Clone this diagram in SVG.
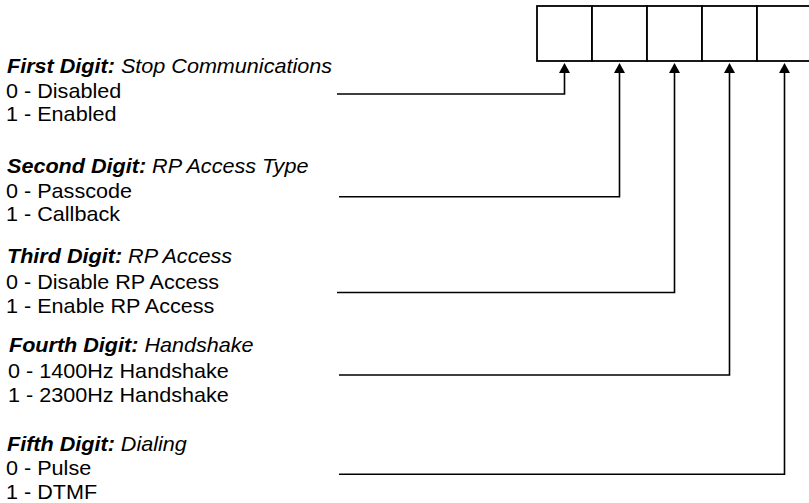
<svg xmlns="http://www.w3.org/2000/svg" width="809" height="503" viewBox="0 0 809 503">
<style>
text { font-family: "Liberation Sans", Arial, sans-serif; font-size: 20px; fill: #000; }
.h { font-style: italic; }
.b { font-weight: bold; }
.cell { fill: #fff; stroke: #000; stroke-width: 1.8; }
.conn { fill: none; stroke: #000; stroke-width: 1.6; }
</style>
<defs>
<marker id="arr" viewBox="0 0 10 11" refX="0" refY="5.5" markerWidth="10" markerHeight="11" markerUnits="userSpaceOnUse" orient="auto">
<path d="M0 0 L10 5.5 L0 11 Z" fill="#000"/>
</marker>
</defs>
<rect width="809" height="503" fill="#fff"/>
<g id="register">
<rect class="cell" x="537" y="6" width="55" height="55"/>
<rect class="cell" x="592" y="6" width="55" height="55"/>
<rect class="cell" x="647" y="6" width="55" height="55"/>
<rect class="cell" x="702" y="6" width="55" height="55"/>
<rect class="cell" x="757" y="6" width="55" height="55"/>
</g>
<g id="first-digit" transform="scale(1.08 1)">
<text x="6.5" y="73"><tspan class="h b">First Digit:</tspan><tspan class="h"> Stop Communications</tspan></text>
<text x="5.6" y="98.5">0 - Disabled</text>
<text x="5.6" y="120.7">1 - Enabled</text>
</g>
<g id="second-digit" transform="scale(1.08 1)">
<text x="6.5" y="173.3"><tspan class="h b">Second Digit:</tspan><tspan class="h"> RP Access Type</tspan></text>
<text x="5.6" y="197.7">0 - Passcode</text>
<text x="5.6" y="220.7">1 - Callback</text>
</g>
<g id="third-digit" transform="scale(1.08 1)">
<text x="6.5" y="263.3"><tspan class="h b">Third Digit:</tspan><tspan class="h"> RP Access</tspan></text>
<text x="5.6" y="289">0 - Disable RP Access</text>
<text x="5.6" y="313">1 - Enable RP Access</text>
</g>
<g id="fourth-digit" transform="scale(1.08 1)">
<text x="8.3" y="352"><tspan class="h b">Fourth Digit:</tspan><tspan class="h"> Handshake</tspan></text>
<text x="7.4" y="377.7">0 - 1400Hz Handshake</text>
<text x="7.4" y="401.7">1 - 2300Hz Handshake</text>
</g>
<g id="fifth-digit" transform="scale(1.08 1)">
<text x="6.5" y="450.7"><tspan class="h b">Fifth Digit:</tspan><tspan class="h"> Dialing</tspan></text>
<text x="5.6" y="475">0 - Pulse</text>
<text x="5.6" y="499.5">1 - DTMF</text>
</g>
<g id="connectors">
<path class="conn" d="M337 94 H564.5 V73" marker-end="url(#arr)"/>
<path class="conn" d="M339 196.7 H619.5 V73" marker-end="url(#arr)"/>
<path class="conn" d="M337 292.5 H674.5 V73" marker-end="url(#arr)"/>
<path class="conn" d="M339 375 H729.5 V73" marker-end="url(#arr)"/>
<path class="conn" d="M339 474.3 H784.5 V73" marker-end="url(#arr)"/>
</g>
</svg>
